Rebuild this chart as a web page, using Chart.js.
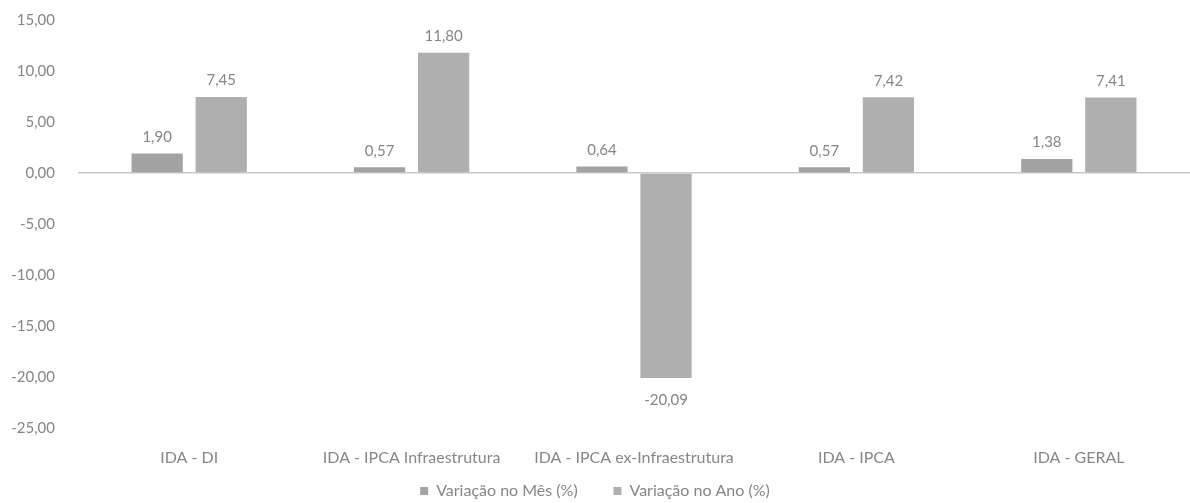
<!DOCTYPE html>
<html><head><meta charset="utf-8">
<script src="https://cdn.jsdelivr.net/npm/chart.js@4"></script>
<style>html,body{margin:0;padding:0;background:#fff}#wrap{width:1190px;height:503px}</style>
</head><body><div id="wrap"><canvas id="c"></canvas></div>
<script>
const categories = ["IDA - DI", "IDA - IPCA Infraestrutura", "IDA - IPCA ex-Infraestrutura", "IDA - IPCA", "IDA - GERAL"];
const seriesNames = ["Variação no Mês (%)", "Variação no Ano (%)"];
const variacaoMes = [1.90, 0.57, 0.64, 0.57, 1.38];
const variacaoAno = [7.45, 11.80, -20.09, 7.42, 7.41];
const yTicks = [15, 10, 5, 0, -5, -10, -15, -20, -25];

const fmt = v => v.toFixed(2).replace('.', ',');
const FONT = 'Lato, "Open Sans", sans-serif';
const TXT = '#868686';
const FS = 16;
const FS_NUM = 15;

const labelPlugin = {
  id: 'valLabels',
  afterDatasetsDraw(chart) {
    const ctx = chart.ctx;
    ctx.save();
    ctx.font = FS_NUM + 'px ' + FONT;
    ctx.fillStyle = TXT;
    ctx.textAlign = 'center';
    chart.data.datasets.forEach((ds, i) => {
      const meta = chart.getDatasetMeta(i);
      meta.data.forEach((bar, j) => {
        const v = ds.data[j];
        if (v >= 0) { ctx.textBaseline = 'bottom'; ctx.fillText(fmt(v), bar.x, bar.y - 9); }
        else { ctx.textBaseline = 'top'; ctx.fillText(fmt(v), bar.x, bar.y + 15); }
      });
    });
    ctx.restore();
  }
};

Chart.defaults.font.family = FONT;
Chart.defaults.color = TXT;

new Chart(document.getElementById('c'), {
  type: 'bar',
  data: {
    labels: categories,
    datasets: [
      { label: seriesNames[0], data: variacaoMes, backgroundColor: '#a3a3a3', categoryPercentage: 0.576, barPercentage: 0.8 },
      { label: seriesNames[1], data: variacaoAno, backgroundColor: '#afafaf', categoryPercentage: 0.576, barPercentage: 0.8 }
    ]
  },
  options: {
    responsive: true, maintainAspectRatio: false, animation: false,
    layout: { padding: { top: 20, right: 0, left: 0, bottom: -6 } },
    plugins: {
      legend: {
        position: 'bottom',
        labels: {
          boxWidth: 8, boxHeight: 8, padding: 3, font: { size: FS, family: FONT }, color: TXT,
          generateLabels(chart) {
            const items = Chart.defaults.plugins.legend.labels.generateLabels(chart);
            return items.map((it, i) => Object.assign(it, { text: i === 0 ? it.text + '        ' : it.text }));
          }
        }
      },
      tooltip: { enabled: false }
    },
    scales: {
      x: {
        afterFit(s) { s.height = 52; },
        grid: { display: false, drawTicks: false },
        border: { display: false },
        ticks: { padding: 20, font: { size: FS, family: FONT }, color: TXT, maxRotation: 0, autoSkip: false }
      },
      y: {
        min: -25, max: 15,
        afterFit(s) { s.width = 78; s.paddingTop = 0; s.paddingBottom = 0; },
        afterBuildTicks(s) { s.ticks = yTicks.map(v => ({ value: v })); },
        grid: {
          drawTicks: false,
          color: c => (c.tick && c.tick.value === 0) ? '#c9c9c9' : 'rgba(0,0,0,0)',
          lineWidth: 1.5
        },
        border: { display: false },
        ticks: { padding: 23, font: { size: FS_NUM, family: FONT }, color: TXT, callback: v => fmt(v) }
      }
    }
  },
  plugins: [labelPlugin]
});
</script></body></html>
